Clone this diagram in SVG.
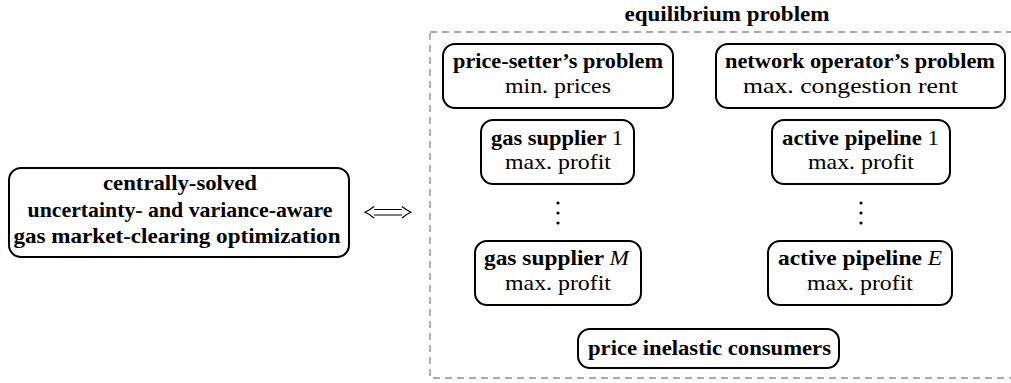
<svg xmlns="http://www.w3.org/2000/svg" width="1011" height="383" viewBox="0 0 1011 383">
<style>
.box{fill:#fff;stroke:#000;stroke-width:2}
.t{font-family:"Liberation Serif","Times New Roman",serif;font-size:22px;fill:#000;text-anchor:middle}
.b{font-weight:bold}
.m{font-style:italic;font-weight:normal}
.n{font-weight:normal}
.dash{fill:none;stroke:#8c8c8c;stroke-width:1.3;stroke-dasharray:7 5}
.dot{fill:#000}
</style>
<rect width="1011" height="383" fill="#fff"/>
<g id="equilibrium">
<rect class="dash" x="430" y="32" width="600" height="346"/>
<text class="t b" x="727" y="21" textLength="205" lengthAdjust="spacingAndGlyphs">equilibrium problem</text>
</g>
<g id="central">
<rect class="box" x="9" y="168" width="340" height="89" rx="12"/>
<text class="t b" x="180" y="190" textLength="154" lengthAdjust="spacingAndGlyphs">centrally-solved</text>
<text class="t b" x="180" y="217" textLength="305" lengthAdjust="spacingAndGlyphs">uncertainty- and variance-aware</text>
<text class="t b" x="177" y="243" textLength="327" lengthAdjust="spacingAndGlyphs">gas market-clearing optimization</text>
</g>
<g id="connectors" fill="none" stroke="#000" stroke-width="1.2">
<path d="M374 209.5H402M374 215H402"/>
<path d="M374 206.5C371 209 368 211 365 212.3C368 213.5 371 215.5 374 218"/>
<path d="M402 206.5C405 209 408 211 411 212.3C408 213.5 405 215.5 402 218"/>
</g>
<g id="price-setter">
<rect class="box" x="443" y="44" width="230" height="64" rx="12"/>
<text class="t b" x="558" y="68" textLength="210" lengthAdjust="spacingAndGlyphs">price-setter’s problem</text>
<text class="t" x="558" y="93" textLength="106" lengthAdjust="spacingAndGlyphs">min. prices</text>
</g>
<g id="network-operator">
<rect class="box" x="716" y="44" width="289" height="64" rx="12"/>
<text class="t b" x="860" y="68" textLength="270" lengthAdjust="spacingAndGlyphs">network operator’s problem</text>
<text class="t" x="850.5" y="93" textLength="215" lengthAdjust="spacingAndGlyphs">max. congestion rent</text>
</g>
<g id="gas-supplier-1">
<rect class="box" x="481" y="120" width="153" height="64" rx="12"/>
<text class="t b" x="557" y="145" textLength="132" lengthAdjust="spacingAndGlyphs">gas supplier <tspan class="n">1</tspan></text>
<text class="t" x="558" y="169" textLength="106" lengthAdjust="spacingAndGlyphs">max. profit</text>
</g>
<g id="active-pipeline-1">
<rect class="box" x="772" y="120" width="178" height="64" rx="12"/>
<text class="t b" x="860.5" y="145" textLength="157" lengthAdjust="spacingAndGlyphs">active pipeline <tspan class="n">1</tspan></text>
<text class="t" x="861" y="169" textLength="106" lengthAdjust="spacingAndGlyphs">max. profit</text>
</g>
<g id="dots-suppliers">
<circle class="dot" cx="558" cy="203" r="1.6"/>
<circle class="dot" cx="558" cy="213" r="1.6"/>
<circle class="dot" cx="558" cy="223" r="1.6"/>
</g>
<g id="dots-pipelines">
<circle class="dot" cx="861" cy="203" r="1.6"/>
<circle class="dot" cx="861" cy="213" r="1.6"/>
<circle class="dot" cx="861" cy="223" r="1.6"/>
</g>
<g id="gas-supplier-M">
<rect class="box" x="475" y="241" width="166" height="64" rx="12"/>
<text class="t b" x="556.5" y="265" textLength="145" lengthAdjust="spacingAndGlyphs">gas supplier <tspan class="m">M</tspan></text>
<text class="t" x="558" y="290" textLength="106" lengthAdjust="spacingAndGlyphs">max. profit</text>
</g>
<g id="active-pipeline-E">
<rect class="box" x="768" y="241" width="184" height="64" rx="12"/>
<text class="t b" x="860" y="265" textLength="164" lengthAdjust="spacingAndGlyphs">active pipeline <tspan class="m">E</tspan></text>
<text class="t" x="860" y="290" textLength="106" lengthAdjust="spacingAndGlyphs">max. profit</text>
</g>
<g id="consumers">
<rect class="box" x="578" y="329" width="261" height="39" rx="12"/>
<text class="t b" x="709.5" y="355" textLength="243" lengthAdjust="spacingAndGlyphs">price inelastic consumers</text>
</g>
</svg>
